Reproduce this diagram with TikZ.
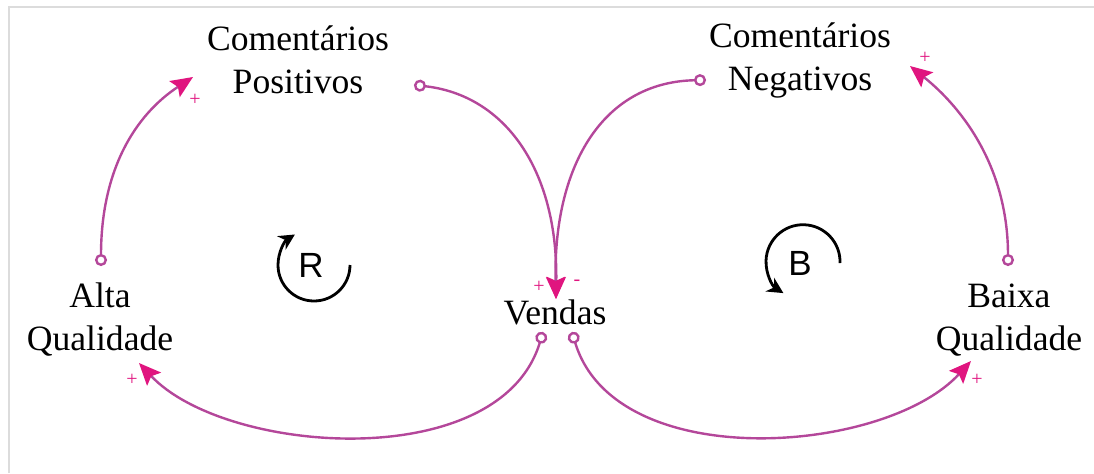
\documentclass[tikz,border=0pt]{standalone}
\usepackage{fontspec}
\setmainfont{Liberation Serif}
\setsansfont{Liberation Sans}
\usetikzlibrary{arrows.meta, positioning}
\definecolor{linkpink}{HTML}{B4479A}
\definecolor{tippink}{HTML}{E0157F}
\definecolor{framegray}{HTML}{DCDCDC}

\begin{document}
\begin{tikzpicture}[x=0.5pt, y=-0.5pt]
\tikzstyle{varnode}=[align=center, font=\fontsize{17.8}{21.5}\selectfont, inner sep=0pt]
\tikzstyle{link}=[draw=linkpink, line width=1.2pt, {Circle[open, length=6pt, width=6pt]}-{Stealth[length=11pt, width=9.5pt, inset=2pt, color=tippink]}]
\tikzstyle{sgn}=[font=\fontsize{10}{10}\selectfont, text=tippink, inner sep=0pt]
\tikzstyle{loopsym}=[font=\sffamily\fontsize{17.5}{17.5}\selectfont, inner sep=0pt]
\tikzstyle{looparrow}=[line width=1.4pt, -{Stealth[length=8pt, width=8pt]}]

    \useasboundingbox (0,0) rectangle (1094,473);
    \draw[framegray, line width=1pt] (9,473) -- (9,7) -- (1094,7);

    % variables
    \node (cpos) [varnode] at (298,60) {Comentários\\Positivos};
    \node (cneg) [varnode] at (800,60) {Comentários\\Negativos};
    \node (alta) [varnode] at (100,320) {Alta\\Qualidade};
    \node (baixa) [varnode] at (1009,320) {Baixa\\Qualidade};
    \node (vendas) [varnode] at (555,312) {Vendas};

    % link ends
    \coordinate (cpos-out) at (414,85);
    \coordinate (cneg-out) at (706,80);
    \coordinate (alta-out) at (101,266);
    \coordinate (baixa-out) at (1008,266);
    \coordinate (vendas-outl) at (543,332);
    \coordinate (vendas-outr) at (572,332);
    \coordinate (vendas-in) at (556,299);
    \coordinate (cpos-in) at (193,77);
    \coordinate (cneg-in) at (910,66);
    \coordinate (alta-in) at (139,363);
    \coordinate (baixa-in) at (971,361);

    \draw[link] (cpos-out) .. controls (505,95) and (558,170) .. (vendas-in);
    \draw[link] (cneg-out) .. controls (600,82) and (553,170) .. (vendas-in);
    \draw[link] (vendas-outl) .. controls (500,475) and (225,455) .. (alta-in);
    \draw[link] (vendas-outr) .. controls (615,475) and (885,455) .. (baixa-in);
    \draw[link] (alta-out) .. controls (101,170) and (135,115) .. (cpos-in);
    \draw[link] (baixa-out) .. controls (1008,170) and (965,110) .. (cneg-in);

    % polarities
    \node (p1) [sgn] at (195,100) {+};
    \node (p2) [sgn] at (925,58) {+};
    \node (p3) [sgn] at (539,287) {+};
    \node (p4) [sgn] at (577,283) {-};
    \node (p5) [sgn] at (132,380) {+};
    \node (p6) [sgn] at (977,380) {+};

    % loops
    \node (rsym) [loopsym] at (311,265) {R};
    \node (bsym) [loopsym] at (800,263) {B};
    \draw[looparrow] ([xshift=19.5pt]rsym.center) arc[start angle=0, end angle=238, radius=36];
    \draw[looparrow] ([xshift=20pt]bsym.center) arc[start angle=2, end angle=-238, radius=37];
\end{tikzpicture}
\end{document}
